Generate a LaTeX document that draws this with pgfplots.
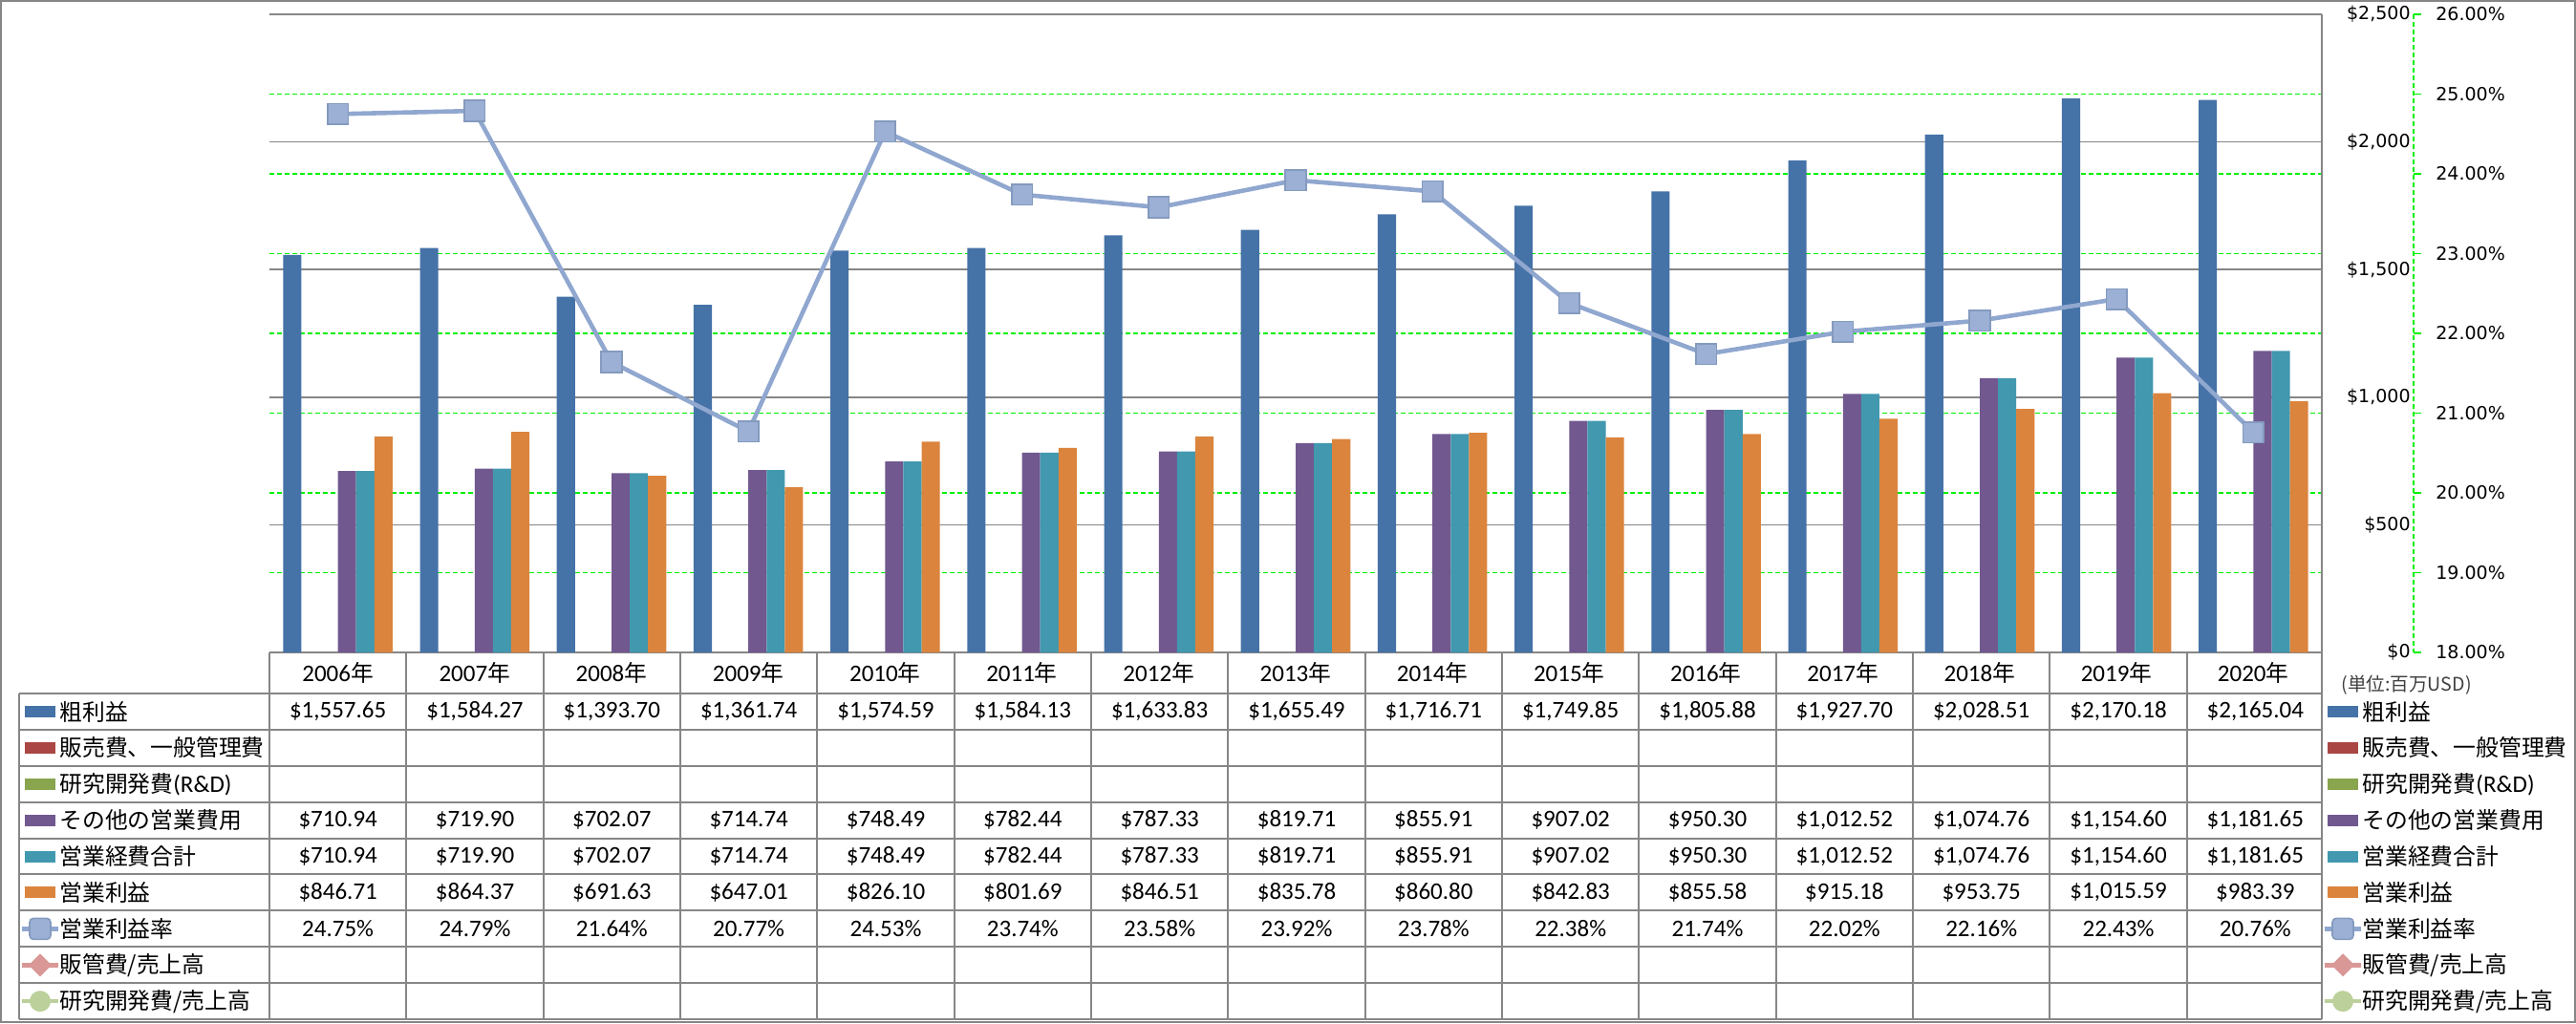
\documentclass[border=0pt]{standalone}
\usepackage{pgfplots}
\pgfplotsset{compat=1.18}
\usepackage{pgfplotstable}
\usepackage{fontspec}
\setmainfont{Carlito}
\newfontfamily\cjk{Noto Sans CJK JP}
\newfontfamily\dv{DejaVu Sans}

\definecolor{cgp}{HTML}{4572A7}
\definecolor{csg}{HTML}{AA4643}
\definecolor{crd}{HTML}{89A54E}
\definecolor{coth}{HTML}{71588F}
\definecolor{ctot}{HTML}{4198AF}
\definecolor{cop}{HTML}{DB843D}
\definecolor{crate}{HTML}{90A7CF}
\definecolor{csgr}{HTML}{D99795}
\definecolor{crdr}{HTML}{BBD09A}
\definecolor{cgrid}{HTML}{868686}
\definecolor{cgreen}{HTML}{00F000}

% 単位: 百万USD
\pgfplotstableread{
year gp oth tot op rate
2006 1557.65 710.94 710.94 846.71 24.75
2007 1584.27 719.90 719.90 864.37 24.79
2008 1393.70 702.07 702.07 691.63 21.64
2009 1361.74 714.74 714.74 647.01 20.77
2010 1574.59 748.49 748.49 826.10 24.53
2011 1584.13 782.44 782.44 801.69 23.74
2012 1633.83 787.33 787.33 846.51 23.58
2013 1655.49 819.71 819.71 835.78 23.92
2014 1716.71 855.91 855.91 860.80 23.78
2015 1749.85 907.02 907.02 842.83 22.38
2016 1805.88 950.30 950.30 855.58 21.74
2017 1927.70 1012.52 1012.52 915.18 22.02
2018 2028.51 1074.76 1074.76 953.75 22.16
2019 2170.18 1154.60 1154.60 1015.59 22.43
2020 2165.04 1181.65 1181.65 983.39 20.76
}\data

\pgfplotsset{
  common/.style={
    set layers, scale only axis, width=1074pt, height=334pt,
    at={(141pt,-341.5pt)}, anchor=south west,
    xmin=2005.5, xmax=2020.5,
    axis line style={draw=none}, major tick length=0pt,
    ticklabel style={inner sep=0pt},
  }
}

\begin{document}
\begin{tikzpicture}
\draw[cgrid, line width=1pt] (0.5pt,-0.5pt) rectangle (1347.5pt,-535pt);

\begin{axis}[common,
  ymin=0, ymax=2500, ytick={0,500,...,2500},
  ybar=0pt, bar width=0.13333,
  ymajorgrids, grid style={cgrid, line width=0.75pt},
  yticklabel pos=right,
  yticklabel style={anchor=east, xshift=46.5pt, font=\fontsize{9.5}{11}\dv},
  yticklabel={\$\pgfmathprintnumber[assume math mode=true]{\tick}},
  xtick={2006,...,2020},
  xticklabel={\pgfmathtruncatemacro\yr{\tick+0.5}\yr{\cjk\fontsize{11.9}{14}\selectfont 年}},
  xticklabel style={anchor=center, yshift=-10.75pt, font=\fontsize{12.5}{15}\selectfont},
]
\addplot[fill=cgp, draw=none, bar shift=-0.33333] table[x=year,y=gp]{\data};
\addplot[fill=coth, draw=none, bar shift=0.06667] table[x=year,y=oth]{\data};
\addplot[fill=ctot, draw=none, bar shift=0.2] table[x=year,y=tot]{\data};
\addplot[fill=cop, draw=none, bar shift=0.33333] table[x=year,y=op]{\data};
\end{axis}

\begin{axis}[common,
  ymin=18, ymax=26, ytick={19,...,25}, extra y ticks={18,26},
  extra y tick style={grid=none},
  ymajorgrids, grid style={cgreen, line width=0.7pt, dash pattern=on 2.5pt off 1.5pt},
  xtick=\empty,
  yticklabel pos=right,
  yticklabel style={anchor=west, xshift=59.5pt, font=\fontsize{9.5}{11}\dv},
  yticklabel={\pgfmathprintnumber[fixed,fixed zerofill,precision=2,assume math mode=true]{\tick}\%},
]
\addplot[crate, line width=2.3pt, mark=square*, mark size=5.4pt,
  mark options={fill=crate!90!white, draw=crate!92!black, line width=0.8pt}]
  table[x=year,y=rate]{\data};
\end{axis}

\begin{scope}[x=0.5pt, y=-0.5pt]
\pgfkeys{/pgf/number format/.cd,fixed,fixed zerofill,precision=2,1000 sep={,},assume math mode=true}
% secondary axis line
\draw[cgreen, line width=0.7pt, dash pattern=on 2.5pt off 1.5pt] (2526,15) -- (2526,683);
\foreach \k in {0,...,8} \draw[cgreen, line width=0.7pt] (2526,{683-83.5*\k}) -- (2534,{683-83.5*\k});
% table
\draw[cgrid, line width=0.6pt] (2430,15) -- (2430,1067);
\foreach \k in {0,...,14} \draw[cgrid, line width=0.6pt] ({round(282+143.333*\k)},683) -- ({round(282+143.333*\k)},1067);
\draw[cgrid, line width=0.6pt] (20,726) -- (20,1067);
\foreach \k in {0,...,9} \draw[cgrid, line width=0.6pt] (20,{round(726+37.9*\k)}) -- (2430,{round(726+37.9*\k)});
\node[anchor=west, inner sep=0pt, text=black!75, font=\cjk\fontsize{9.8}{11}\selectfont] at (2450,717) {(単位:百万USD)};

% values
\foreach \i in {0,...,14}{
  \pgfmathsetmacro\cx{282+143.333*(\i+0.5)}
  \pgfplotstablegetelem{\i}{gp}\of\data\let\va\pgfplotsretval
  \pgfplotstablegetelem{\i}{oth}\of\data\let\vb\pgfplotsretval
  \pgfplotstablegetelem{\i}{tot}\of\data\let\vc\pgfplotsretval
  \pgfplotstablegetelem{\i}{op}\of\data\let\vd\pgfplotsretval
  \pgfplotstablegetelem{\i}{rate}\of\data\let\ve\pgfplotsretval
  \begin{scope}[every node/.style={font=\fontsize{12.5}{15}\selectfont, inner sep=0pt}]
  \node at (\cx,{726+37.9*0.5}) {\$\pgfmathprintnumber{\va}};
  \node at (\cx,{726+37.9*3.5}) {\$\pgfmathprintnumber{\vb}};
  \node at (\cx,{726+37.9*4.5}) {\$\pgfmathprintnumber{\vc}};
  \node at (\cx,{726+37.9*5.5}) {\$\pgfmathprintnumber{\vd}};
  \node at (\cx,{726+37.9*6.5}) {\pgfmathprintnumber{\ve}\%};
  \end{scope}
}

% legend keys (left in table, right outside)
\foreach \x/\tx in {26/62, 2436/2472}{
  \foreach \k/\c in {0/cgp,1/csg,2/crd,3/coth,4/ctot,5/cop}
    \fill[\c] (\x,{726+37.9*(\k+0.5)-6}) rectangle ++(32,12);
  \pgfmathsetmacro\ya{726+37.9*6.5}
  \pgfmathsetmacro\yb{726+37.9*7.5}
  \pgfmathsetmacro\yc{726+37.9*8.5}
  \draw[crate, line width=2.3pt] (\x-3,\ya) -- ++(38,0);
  \fill[crate!90!white, draw=crate!92!black, line width=0.8pt, rounded corners=2pt] (\x+5,\ya-11) rectangle ++(22,22);
  \draw[csgr, line width=2.3pt] (\x-3,\yb) -- ++(38,0);
  \fill[csgr] (\x+16,\yb-12) -- (\x+28,\yb) -- (\x+16,\yb+12) -- (\x+4,\yb) -- cycle;
  \draw[crdr, line width=2.3pt] (\x-3,\yc) -- ++(38,0);
  \fill[crdr] (\x+16,\yc) circle (11);
  \begin{scope}[every node/.style={anchor=west, inner sep=0pt, font=\cjk\fontsize{11.9}{14}\selectfont}]
  \node at (\tx,{726+37.9*0.5}) {粗利益};
  \node at (\tx,{726+37.9*1.5}) {販売費、一般管理費};
  \node at (\tx,{726+37.9*2.5}) {研究開発費{\rmfamily\fontsize{12.5}{15}\selectfont(R\&D)}};
  \node at (\tx,{726+37.9*3.5}) {その他の営業費用};
  \node at (\tx,{726+37.9*4.5}) {営業経費合計};
  \node at (\tx,{726+37.9*5.5}) {営業利益};
  \node at (\tx,{726+37.9*6.5}) {営業利益率};
  \node at (\tx,{726+37.9*7.5}) {販管費/売上高};
  \node at (\tx,{726+37.9*8.5}) {研究開発費/売上高};
  \end{scope}
}
\end{scope}
\end{tikzpicture}
\end{document}
